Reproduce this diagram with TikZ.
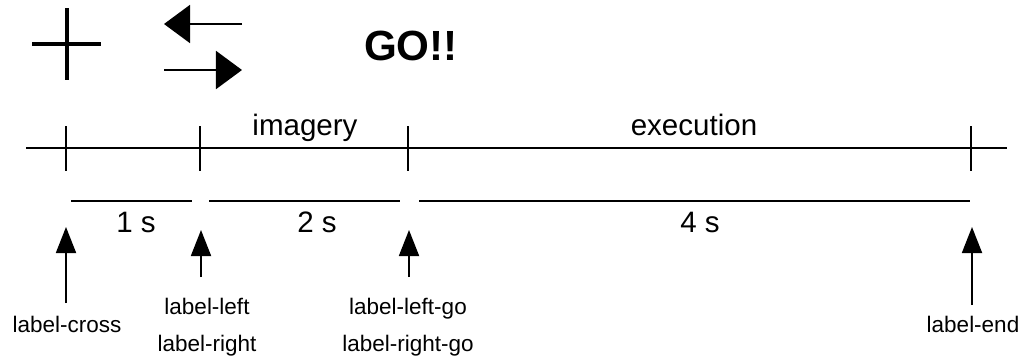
\documentclass[tikz,border=0pt]{standalone}
\usepackage{fontspec}
\setmainfont{Liberation Sans}
\usetikzlibrary{arrows.meta,positioning}

\begin{document}
\begin{tikzpicture}[x=0.025cm,y=-0.025cm,line width=1.1pt,
  cue/.style={line width=1.3pt,-{Triangle[width=0.5cm,length=0.65cm]}},
  hint/.style={line width=1.3pt,-{Triangle[width=0.95cm,length=0.65cm]}},
  phase/.style={anchor=base,font=\fontsize{21}{25}\selectfont},
  trig/.style={anchor=base,font=\fontsize{16}{19}\selectfont}]
  \tikzstyle{dur} = [anchor=base,font=\fontsize{21}{25}\selectfont]
  \useasboundingbox (0,0) rectangle (1025,358);

% stimuli
  \draw[line width=2.8pt] (32,44) -- (101,44) (67,8) -- (67,80);
  \coordinate (LA) at (242,24);  \coordinate (LB) at (164,24);
  \coordinate (RA) at (164,70);  \coordinate (RB) at (242,70);
  \path (LA) edge[hint] (LB)
        (RA) edge[hint] (RB);
  \node[font=\bfseries\fontsize{30}{36}\selectfont] (GO) at (411,46) {GO!!};

% time axis
  \coordinate (START) at (26,148); \coordinate (STOP) at (1007,148);
  \draw (START) -- (STOP);
  \foreach \x in {66,200,408,971}
    \draw (\x,126) -- (\x,171);
  \node[phase] (IMAGERY)   at (305,135) {imagery};
  \node[phase] (EXECUTION) at (694,135) {execution};

% durations
  \draw (71,201) -- (192,201) (209,201) -- (400,201) (419,201) -- (970,201);
  \node[dur] (ONE)  at (136,232) {1 s};
  \node[dur] (TWO)  at (317,232) {2 s};
  \node[dur] (FOUR) at (700,232) {4 s};

% triggers
  \coordinate (C0) at (66,303);  \coordinate (C1) at (66,227);
  \coordinate (L0) at (201,277); \coordinate (L1) at (201,230);
  \coordinate (G0) at (409,277); \coordinate (G1) at (409,230);
  \coordinate (E0) at (972,305); \coordinate (E1) at (972,227);
  \path (C0) edge[cue] (C1)
        (L0) edge[cue] (L1)
        (G0) edge[cue] (G1)
        (E0) edge[cue] (E1);
  \node[trig] (CROSS)   at (67,332)  {label-cross};
  \node[trig] (LEFT)    at (207,314) {label-left};
  \node[trig] (RIGHT)   at (207,351) {label-right};
  \node[trig] (LEFTGO)  at (408,314) {label-left-go};
  \node[trig] (RIGHTGO) at (408,351) {label-right-go};
  \node[trig] (END)     at (973,332) {label-end};
\end{tikzpicture}
\end{document}
